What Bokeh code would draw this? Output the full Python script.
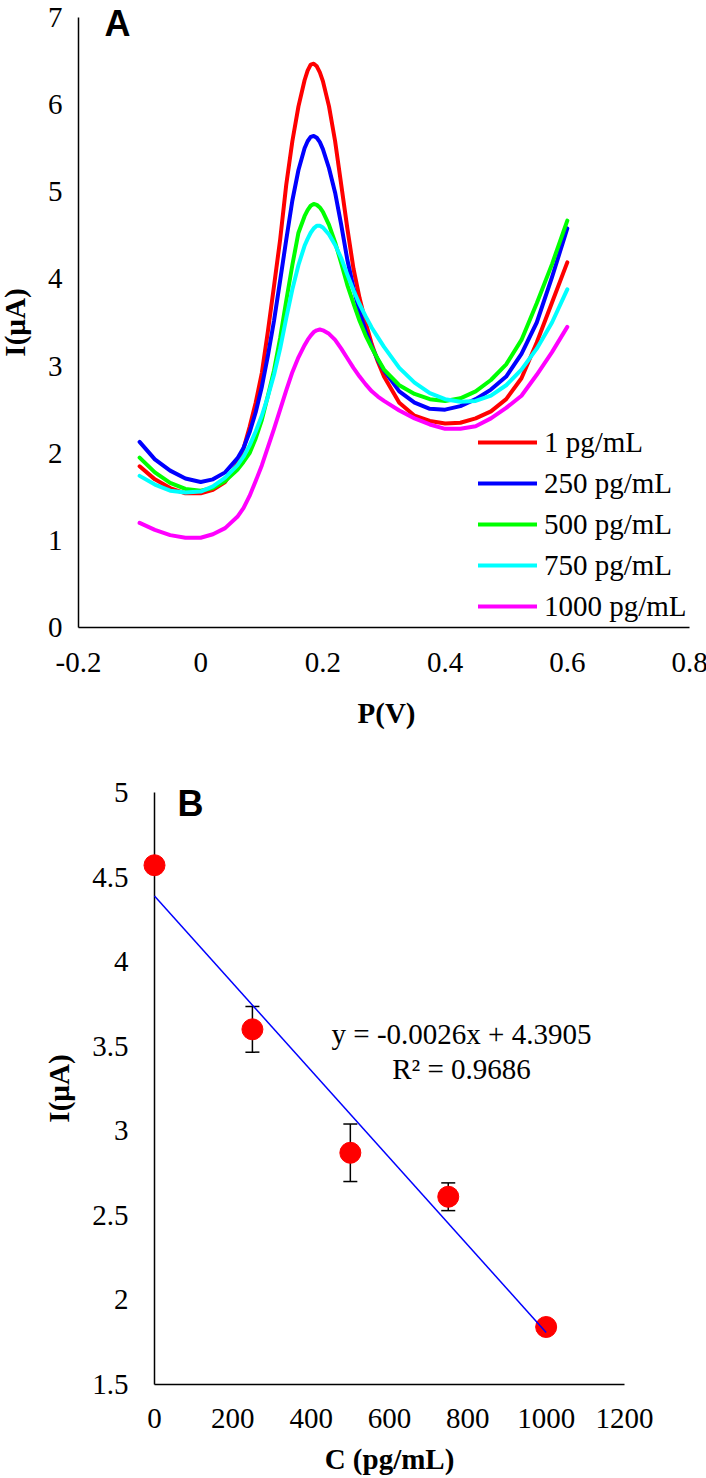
import math
from bokeh.plotting import figure
from bokeh.models import (Range1d, Legend, LegendItem, Label,
                          ColumnDataSource, Whisker, TeeHead)
from bokeh.embed import file_html
from bokeh.resources import INLINE
import numpy as np

# ---------------- Panel A data ----------------
potential = [-0.1, -0.075, -0.05, -0.025, 0.0, 0.02, 0.04, 0.06, 0.07, 0.08,
             0.09, 0.1, 0.11, 0.12, 0.13, 0.14, 0.15, 0.16, 0.17, 0.175,
             0.18, 0.185, 0.19, 0.195, 0.2, 0.21, 0.22, 0.23, 0.24, 0.25,
             0.26, 0.27, 0.28, 0.29, 0.3, 0.325, 0.35, 0.375, 0.4, 0.425,
             0.45, 0.475, 0.5, 0.525, 0.55, 0.575, 0.6]

i_1 = [1.85, 1.70, 1.60, 1.54, 1.54, 1.58, 1.67, 1.88, 2.05, 2.30,
       2.58, 2.92, 3.40, 3.92, 4.45, 5.08, 5.58, 5.98, 6.28, 6.39,
       6.46, 6.47, 6.44, 6.37, 6.27, 5.98, 5.58, 5.08, 4.58, 4.12,
       3.78, 3.50, 3.25, 3.05, 2.88, 2.58, 2.43, 2.37, 2.34, 2.35,
       2.40, 2.48, 2.62, 2.86, 3.27, 3.73, 4.19]
i_250 = [2.13, 1.93, 1.80, 1.71, 1.67, 1.70, 1.78, 1.94, 2.06, 2.24,
         2.47, 2.76, 3.12, 3.52, 3.98, 4.45, 4.90, 5.25, 5.50, 5.58,
         5.63, 5.64, 5.62, 5.57, 5.49, 5.27, 4.99, 4.62, 4.22, 3.90,
         3.62, 3.40, 3.22, 3.07, 2.95, 2.71, 2.58, 2.51, 2.50, 2.54,
         2.62, 2.73, 2.88, 3.14, 3.50, 4.02, 4.58]
i_500 = [1.95, 1.78, 1.66, 1.59, 1.57, 1.60, 1.68, 1.81, 1.90, 2.00,
         2.17, 2.38, 2.66, 2.95, 3.32, 3.75, 4.16, 4.53, 4.72, 4.79,
         4.84, 4.86, 4.85, 4.82, 4.77, 4.62, 4.42, 4.18, 3.93, 3.72,
         3.52, 3.35, 3.21, 3.08, 2.96, 2.78, 2.68, 2.62, 2.60, 2.63,
         2.71, 2.84, 3.02, 3.30, 3.72, 4.17, 4.67]
i_750 = [1.74, 1.64, 1.57, 1.55, 1.56, 1.62, 1.72, 1.86, 1.96, 2.09,
         2.25, 2.43, 2.65, 2.90, 3.20, 3.55, 3.88, 4.16, 4.38, 4.46,
         4.53, 4.58, 4.61, 4.61, 4.59, 4.51, 4.39, 4.24, 4.05, 3.87,
         3.71, 3.57, 3.44, 3.33, 3.22, 2.98, 2.81, 2.69, 2.62, 2.59,
         2.60, 2.66, 2.78, 2.96, 3.20, 3.50, 3.88]
i_1000 = [1.20, 1.12, 1.06, 1.03, 1.03, 1.07, 1.14, 1.27, 1.37, 1.51,
          1.68, 1.86, 2.07, 2.28, 2.50, 2.72, 2.93, 3.10, 3.24, 3.30,
          3.35, 3.39, 3.41, 3.42, 3.41, 3.37, 3.30, 3.20, 3.09, 2.98,
          2.88, 2.79, 2.71, 2.65, 2.60, 2.49, 2.40, 2.33, 2.28, 2.28,
          2.31, 2.40, 2.52, 2.66, 2.90, 3.16, 3.45]

series_labels = ["1 pg/mL", "250 pg/mL", "500 pg/mL", "750 pg/mL", "1000 pg/mL"]
series_values = [i_1, i_250, i_500, i_750, i_1000]
series_colors = ["#FF0000", "#0000FF", "#00FF00", "#00FFFF", "#FF00FF"]

xticks_A = [-0.2, 0.0, 0.2, 0.4, 0.6, 0.8]
xtick_labels_A = ["-0.2", "0", "0.2", "0.4", "0.6", "0.8"]
yticks_A = [0, 1, 2, 3, 4, 5, 6, 7]
ytick_labels_A = ["0", "1", "2", "3", "4", "5", "6", "7"]
xtitle_A = "P(V)"
ytitle_A = "I(\u00b5A)"

# ---------------- Panel B data ----------------
conc = [0, 250, 500, 750, 1000]
current = [4.57, 3.60, 2.87, 2.61, 1.84]
error = [0.0, 0.135, 0.17, 0.082, 0.0]

xticks_B = [0, 200, 400, 600, 800, 1000, 1200]
xtick_labels_B = ["0", "200", "400", "600", "800", "1000", "1200"]
yticks_B = [1.5, 2, 2.5, 3, 3.5, 4, 4.5, 5]
ytick_labels_B = ["1.5", "2", "2.5", "3", "3.5", "4", "4.5", "5"]
xtitle_B = "C (pg/mL)"
ytitle_B = "I(\u00b5A)"

equation_text = "y = -0.0026x + 4.3905"
r2_text = "R\u00b2 = 0.9686"

# ---------------- layout / style constants ----------------
SERIF = "Liberation Serif"
SANS = "Liberation Sans"
FS = "29px"
W = 706
H_A, H_B = 750, 728
# plot-area edges in canvas pixels (left, right, top, bottom)
BOX_A = (78, 689, 17, 627)
BOX_B = (154, 624, 42, 634)


def make_panel(height, box, xticks, yticks):
    left, right, top, bottom = box
    x0, x1 = xticks[0], xticks[-1]
    y0, y1 = yticks[0], yticks[-1]
    kx = (x1 - x0) / (right - left)
    ky = (y1 - y0) / (bottom - top)
    p = figure(width=W, height=height, min_border=0,
               x_range=Range1d(x0 - left * kx, x1 + (W - right) * kx),
               y_range=Range1d(y0 - (height - bottom) * ky, y1 + top * ky),
               x_axis_location=None, y_axis_location=None,
               output_backend="svg", toolbar_location=None)
    p.outline_line_color = None
    p.xgrid.visible = False
    p.ygrid.visible = False
    p.background_fill_color = "white"
    # axis lines (bottom and left) along the tick extents
    p.segment(x0=[x0, x0], y0=[y0, y0], x1=[x1, x0], y1=[y0, y1],
              line_color="black", line_width=1.5)
    return p


def tick_labels(p, height, box, xticks, xlabels, yticks, ylabels, x_gap, y_gap):
    left, right, top, bottom = box
    for v, t in zip(xticks, xlabels):
        p.add_layout(Label(x=v, y=height - bottom - x_gap, x_units="data",
                           y_units="screen", text=t, text_align="center",
                           text_baseline="middle", text_font=SERIF,
                           text_font_size=FS, text_color="black"))
    for v, t in zip(yticks, ylabels):
        p.add_layout(Label(x=left - y_gap, y=v, x_units="screen", y_units="data",
                           text=t, text_align="right", text_baseline="middle",
                           text_font=SERIF, text_font_size=FS,
                           text_color="black"))


def screen_text(p, x, y, text, font=SERIF, size=FS, style="normal", angle=0.0,
                align="center"):
    p.add_layout(Label(x=x, y=y, x_units="screen", y_units="screen", text=text,
                       text_align=align, text_baseline="middle", angle=angle,
                       text_font=font, text_font_size=size, text_font_style=style,
                       text_color="black"))


# ---------------- Figure A ----------------
pA = make_panel(H_A, BOX_A, xticks_A, yticks_A)
tick_labels(pA, H_A, BOX_A, xticks_A, xtick_labels_A, yticks_A, ytick_labels_A, 35, 16)
screen_text(pA, 386, H_A - 712, xtitle_A, style="bold")
screen_text(pA, 14, H_A - 322, ytitle_A, style="bold", angle=math.pi / 2)

items = []
for lab, vals, col in zip(series_labels, series_values, series_colors):
    r = pA.line(potential, vals, line_color=col, line_width=4,
                line_cap="round", line_join="round")
    items.append(LegendItem(label=lab, renderers=[r]))

legend = Legend(items=items, location=(478, H_A - 624),
                glyph_width=59, glyph_height=36, label_height=36,
                label_standoff=7, spacing=5, padding=0, margin=0,
                border_line_color=None, background_fill_alpha=0,
                label_text_font=SERIF, label_text_font_size=FS,
                label_text_color="black")
pA.add_layout(legend)

screen_text(pA, 104, H_A - 23, "A", font=SANS, size="36px", style="bold", align="left")

# ---------------- Figure B ----------------
pB = make_panel(H_B, BOX_B, xticks_B, yticks_B)
tick_labels(pB, H_B, BOX_B, xticks_B, xtick_labels_B, yticks_B, ytick_labels_B, 34, 26)
screen_text(pB, 389, 20, xtitle_B, style="bold")
screen_text(pB, 58, H_B - 338, ytitle_B, style="bold", angle=math.pi / 2)

cur = np.array(current)
err = np.array(error)
src = ColumnDataSource(dict(x=conc, y=current, upper=cur + err, lower=cur - err))
wh = Whisker(base="x", upper="upper", lower="lower", source=src,
             line_color="black", line_width=1.5,
             upper_head=TeeHead(size=14, line_color="black", line_width=1.5),
             lower_head=TeeHead(size=14, line_color="black", line_width=1.5))
wh.level = "underlay"
pB.add_layout(wh)

pB.scatter("x", "y", source=src, marker="circle", size=21,
           fill_color="#FF0000", line_color="#FF0000")

slope, intercept = np.polyfit(conc, current, 1)
fit_x = [conc[0], conc[-1]]
fit_y = [intercept + slope * v for v in fit_x]
pB.line(fit_x, fit_y, line_color="#0000FF", line_width=1.5)

screen_text(pB, 461, H_B - 283, equation_text)
screen_text(pB, 461, H_B - 318, r2_text)
screen_text(pB, 177, H_B - 53, "B", font=SANS, size="36px", style="bold", align="left")

open("out.html", "w").write(file_html([pA, pB], INLINE))
